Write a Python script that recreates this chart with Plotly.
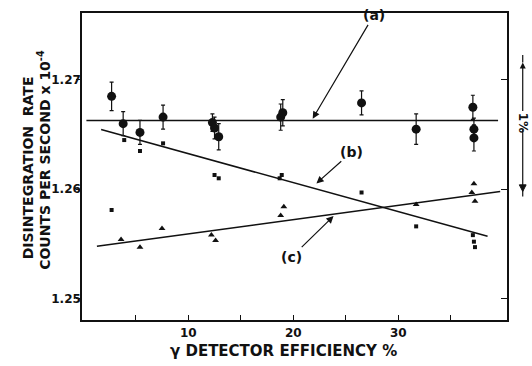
import plotly.graph_objects as go

# --- (a) coincidence-corrected rates: filled circles with error bars ---
a_eff = [2.7, 3.8, 5.4, 7.6, 12.3, 12.5, 12.9, 18.8, 19.0, 26.5, 31.7, 37.1, 37.2, 37.2]
a_rate = [1.2685, 1.2660, 1.2652, 1.2666, 1.2661, 1.2656, 1.2648, 1.2666, 1.2670,
          1.2679, 1.2655, 1.2675, 1.2655, 1.2647]
a_err = [0.0013, 0.0011, 0.0011, 0.0011, 0.0008, 0.0010, 0.0012, 0.0012, 0.0012,
         0.0011, 0.0014, 0.0011, 0.0010, 0.0012]

# --- (b) squares ---
b_eff = [2.7, 3.9, 5.4, 7.6, 12.5, 12.9, 18.9, 18.7, 26.5, 31.7, 37.1, 37.2, 37.3]
b_rate = [1.2581, 1.2645, 1.2635, 1.2642, 1.2613, 1.2610, 1.2613, 1.2610, 1.2597,
          1.2566, 1.2558, 1.2552, 1.2547]

# --- (c) triangles ---
c_eff = [3.6, 5.4, 7.5, 12.2, 12.6, 19.1, 18.8, 31.7, 37.2, 37.0, 37.3]
c_rate = [1.2554, 1.2547, 1.2564, 1.2558, 1.2553, 1.2584, 1.2576, 1.2586, 1.2605,
          1.2597, 1.2589]

# fitted lines (end points)
line_a_x = [0.3, 39.5]
line_a_y = [1.2663, 1.2663]
line_b_x = [1.7, 38.5]
line_b_y = [1.26546, 1.25569]
line_c_x = [1.3, 39.7]
line_c_y = [1.25477, 1.25980]

x_ticks = [5, 10, 15, 20, 25, 30, 35]
x_tick_text = ["", "10", "", "20", "", "30", ""]
y_ticks = [1.25, 1.26, 1.27]
y_tick_text = ["1.25", "1.26", "1.27"]

X_RANGE = [-0.12, 40.35]
Y_RANGE = [1.24803, 1.27613]

FONT = "DejaVu Sans"
INK = "#111111"

fig = go.Figure()

for lx, ly in [(line_a_x, line_a_y), (line_b_x, line_b_y), (line_c_x, line_c_y)]:
    fig.add_trace(go.Scatter(x=lx, y=ly, mode="lines",
                             line=dict(color=INK, width=1.5), showlegend=False,
                             hoverinfo="skip"))

fig.add_trace(go.Scatter(
    x=a_eff, y=a_rate, mode="markers",
    marker=dict(symbol="circle", size=9, color=INK),
    error_y=dict(type="data", array=a_err, visible=True, color=INK,
                 thickness=1.2, width=2),
    showlegend=False))

fig.add_trace(go.Scatter(
    x=b_eff, y=b_rate, mode="markers",
    marker=dict(symbol="square", size=4, color=INK),
    showlegend=False))

fig.add_trace(go.Scatter(
    x=c_eff, y=c_rate, mode="markers",
    marker=dict(symbol="triangle-up", size=6, color=INK),
    showlegend=False))

# dummy trace so the right-hand tick axis is drawn
fig.add_trace(go.Scatter(x=[None], y=[None], yaxis="y2", showlegend=False))

fig.update_layout(
    width=532, height=366,
    margin=dict(l=82, r=25, t=13, b=46),
    paper_bgcolor="white", plot_bgcolor="white",
    font=dict(family=FONT, color=INK),
    xaxis=dict(range=X_RANGE, tickvals=x_ticks, ticktext=x_tick_text,
               ticks="inside", ticklen=5, tickwidth=1, tickcolor=INK,
               ticklabelstandoff=1,
               showline=True, linecolor=INK, linewidth=2, mirror=True,
               showgrid=False, zeroline=False,
               tickfont=dict(family=FONT, size=12, color=INK, weight="bold")),
    yaxis=dict(range=Y_RANGE, tickvals=y_ticks, ticktext=y_tick_text,
               ticks="outside", ticklen=4, tickwidth=1.2, tickcolor=INK,
               ticklabelstandoff=-7,
               showline=True, linecolor=INK, linewidth=1.5, mirror=True,
               showgrid=False, zeroline=False,
               tickfont=dict(family=FONT, size=12, color=INK, weight="bold")),
    yaxis2=dict(range=Y_RANGE, overlaying="y", side="right", tickvals=y_ticks,
                ticks="inside", ticklen=6, tickwidth=1.2, tickcolor=INK,
                showticklabels=False, showline=False, showgrid=False,
                zeroline=False),
)

title_font = dict(family=FONT, size=14, color=INK, weight="bold")

# y-axis title, two tightly stacked rotated lines
fig.add_annotation(text="DISINTEGRATION  RATE", textangle=-90,
                   xref="paper", yref="paper", x=-0.125, y=0.497,
                   xanchor="center", yanchor="middle", showarrow=False,
                   font=title_font)
fig.add_annotation(text="COUNTS PER SECOND x 10<sup>-4</sup>", textangle=-90,
                   xref="paper", yref="paper", x=-0.090, y=0.521,
                   xanchor="center", yanchor="middle", showarrow=False,
                   font=title_font)

# x-axis title
fig.add_annotation(text="γ DETECTOR EFFICIENCY %", xref="paper", yref="paper",
                   x=0.473, y=-0.10, xanchor="center", yanchor="middle",
                   showarrow=False,
                   font=dict(family=FONT, size=15, color=INK, weight="bold"))

ann_font = dict(family=FONT, size=14, color=INK, weight="bold")

# labelled leaders pointing at the three lines
leaders = [
    # (label, head x, head y, label dx, label dy)
    ("(a)", 21.75, 1.2663, 62, -105),
    ("(b)", 22.06, 1.26041, 37, -33),
    ("(c)", 23.97, 1.25767, -43, 42),
]
for txt, hx, hy, dx, dy in leaders:
    fig.add_annotation(x=hx, y=hy, xref="x", yref="y", text=txt, showarrow=True,
                       ax=dx, ay=dy, arrowhead=2, arrowsize=1.2, arrowwidth=1.2,
                       arrowcolor=INK, standoff=2, font=ann_font)

# 1 % scale bar at the right margin
bar_x = 1.037
fig.add_annotation(text="1%", textangle=90, xref="paper", yref="y",
                   x=bar_x, y=1.2716, ax=0, ay=60, showarrow=True,
                   arrowhead=2, arrowsize=1, arrowwidth=1.2, arrowcolor=INK,
                   font=dict(family=FONT, size=12, color=INK, weight="bold"))
fig.add_shape(type="line", xref="paper", yref="y", x0=bar_x, x1=bar_x,
              y0=1.2655, y1=1.25934, line=dict(color=INK, width=1.2))
fig.add_shape(type="line", xref="paper", yref="y", x0=bar_x, x1=bar_x,
              y0=1.2716, y1=1.27229, line=dict(color=INK, width=1.2))
fig.add_shape(type="path", xref="paper", yref="y",
              path=f"M {bar_x - 0.008} 1.2604 L {bar_x + 0.008} 1.2604 L {bar_x} 1.2598 Z",
              fillcolor=INK, line=dict(color=INK, width=1))

fig.write_html("out.html")
